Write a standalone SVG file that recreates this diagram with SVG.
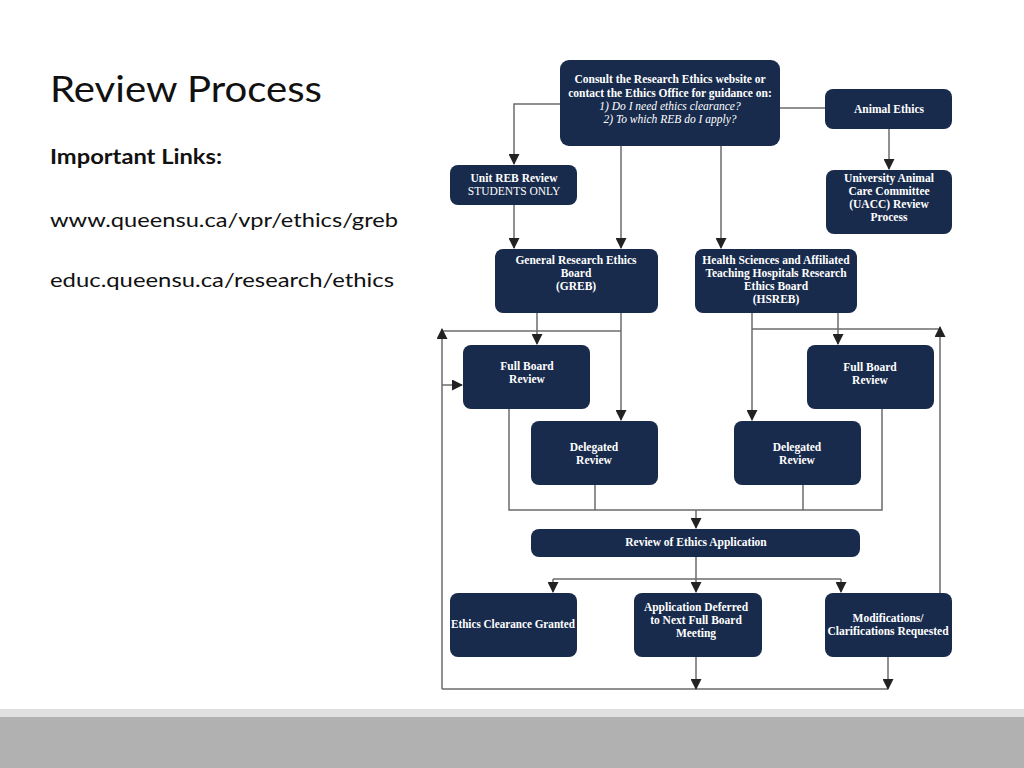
<svg xmlns="http://www.w3.org/2000/svg" width="1024" height="768" viewBox="0 0 1024 768">
<style>
.n{fill:#182b4c}
.t{font-family:"Liberation Serif",serif;font-size:11.5px;font-weight:bold;fill:#fff;text-anchor:middle}
.r{font-weight:normal}
.i{font-style:italic;font-weight:normal}
.c{fill:none;stroke:#6b6b6b;stroke-width:1.5}
.a{stroke:#6b6b6b;stroke-width:1.5;fill:none;marker-end:url(#ah)}
</style>
<defs>
<marker id="ah" markerWidth="11" markerHeight="11" refX="10" refY="5.5" orient="auto" markerUnits="userSpaceOnUse">
<path d="M0,0 L11,5.5 L0,11 Z" fill="#222"/>
</marker>
</defs>
<rect width="1024" height="768" fill="#fff"/>
<rect x="0" y="709" width="1024" height="9" fill="#e0e0e0"/>
<rect x="0" y="717" width="1024" height="51" fill="#b1b1b1"/>
<g id="title">
<text x="50" y="102" font-family="Lato,'Open Sans',sans-serif" font-size="37" fill="#111" textLength="272" lengthAdjust="spacingAndGlyphs">Review Process</text>
<text x="50" y="164" font-family="Lato,'Open Sans',sans-serif" font-size="20" font-weight="bold" fill="#111" textLength="172" lengthAdjust="spacingAndGlyphs">Important Links:</text>
<text x="50" y="227" font-family="Lato,'Open Sans',sans-serif" font-size="20" fill="#111" textLength="348" lengthAdjust="spacingAndGlyphs">www.queensu.ca/vpr/ethics/greb</text>
<text x="50" y="287" font-family="Lato,'Open Sans',sans-serif" font-size="20" fill="#111" textLength="344" lengthAdjust="spacingAndGlyphs">educ.queensu.ca/research/ethics</text>
</g>
<g id="connectors">
<path class="a" d="M560,104 H514 V164"/>
<path class="a" d="M621,145 V248"/>
<path class="a" d="M721,145 V248"/>
<path class="c" d="M780,108 H825"/>
<path class="a" d="M889,128 V169"/>
<path class="a" d="M514,205 V248"/>
<path class="a" d="M537,313 V344"/>
<path class="a" d="M621,313 V420"/>
<path class="c" d="M621,331 H442"/>
<path class="a" d="M442,689 V329"/>
<path class="a" d="M442,385 H462"/>
<path class="a" d="M752,313 V420"/>
<path class="a" d="M838,313 V344"/>
<path class="c" d="M752,329 H940"/>
<path class="a" d="M940,593 V327"/>
<path class="c" d="M509,409 V510 H882 V409"/>
<path class="c" d="M595,485 V510"/>
<path class="c" d="M803,485 V510"/>
<path class="a" d="M696,510 V528"/>
<path class="c" d="M696,557 V579"/>
<path class="c" d="M553,579 H841"/>
<path class="a" d="M553,579 V592"/>
<path class="a" d="M696,579 V592"/>
<path class="a" d="M841,579 V592"/>
<path class="c" d="M442,689 H888"/>
<path class="a" d="M696,657 V689"/>
<path class="a" d="M888,657 V689"/>
</g>
<g id="consult">
<rect class="n" x="560" y="60" width="220" height="86" rx="9"/>
<text class="t" x="670" y="83">Consult the Research Ethics website or</text>
<text class="t" x="670" y="97">contact the Ethics Office for guidance on:</text>
<text class="t i" x="670" y="110">1) Do I need ethics clearance?</text>
<text class="t i" x="670" y="123">2) To which REB do I apply?</text>
</g>
<g id="animal">
<rect class="n" x="825" y="89" width="127" height="40" rx="8"/>
<text class="t" x="889" y="113">Animal Ethics</text>
</g>
<g id="unitreb">
<rect class="n" x="450" y="165" width="127" height="40" rx="8"/>
<text class="t" x="514" y="182">Unit REB Review</text>
<text class="t r" x="514" y="195">STUDENTS ONLY</text>
</g>
<g id="uacc">
<rect class="n" x="826" y="170" width="126" height="64" rx="8"/>
<text class="t" x="889" y="182">University Animal</text>
<text class="t" x="889" y="195">Care Committee</text>
<text class="t" x="889" y="208">(UACC) Review</text>
<text class="t" x="889" y="221">Process</text>
</g>
<g id="greb">
<rect class="n" x="495" y="249" width="163" height="64" rx="8"/>
<text class="t" x="576" y="264">General Research Ethics</text>
<text class="t" x="576" y="277">Board</text>
<text class="t" x="576" y="290">(GREB)</text>
</g>
<g id="hsreb">
<rect class="n" x="695" y="249" width="162" height="64" rx="8"/>
<text class="t" x="776" y="264">Health Sciences and Affiliated</text>
<text class="t" x="776" y="277">Teaching Hospitals Research</text>
<text class="t" x="776" y="290">Ethics Board</text>
<text class="t" x="776" y="303">(HSREB)</text>
</g>
<g id="fullL">
<rect class="n" x="463" y="345" width="127" height="64" rx="8"/>
<text class="t" x="527" y="370">Full Board</text>
<text class="t" x="527" y="383">Review</text>
</g>
<g id="fullR">
<rect class="n" x="807" y="345" width="127" height="64" rx="8"/>
<text class="t" x="870" y="371">Full Board</text>
<text class="t" x="870" y="384">Review</text>
</g>
<g id="delL">
<rect class="n" x="531" y="421" width="127" height="64" rx="8"/>
<text class="t" x="594" y="451">Delegated</text>
<text class="t" x="594" y="464">Review</text>
</g>
<g id="delR">
<rect class="n" x="734" y="421" width="127" height="64" rx="8"/>
<text class="t" x="797" y="451">Delegated</text>
<text class="t" x="797" y="464">Review</text>
</g>
<g id="review">
<rect class="n" x="531" y="529" width="329" height="28" rx="8"/>
<text class="t" x="696" y="546">Review of Ethics Application</text>
</g>
<g id="granted">
<rect class="n" x="450" y="593" width="127" height="64" rx="8"/>
<text class="t" x="513" y="628" textLength="124" lengthAdjust="spacingAndGlyphs">Ethics Clearance Granted</text>
</g>
<g id="deferred">
<rect class="n" x="634" y="593" width="128" height="64" rx="8"/>
<text class="t" x="696" y="611">Application Deferred</text>
<text class="t" x="696" y="624">to Next Full Board</text>
<text class="t" x="696" y="637">Meeting</text>
</g>
<g id="mods">
<rect class="n" x="825" y="593" width="127" height="64" rx="8"/>
<text class="t" x="888" y="622">Modifications/</text>
<text class="t" x="888" y="635">Clarifications Requested</text>
</g>
</svg>
